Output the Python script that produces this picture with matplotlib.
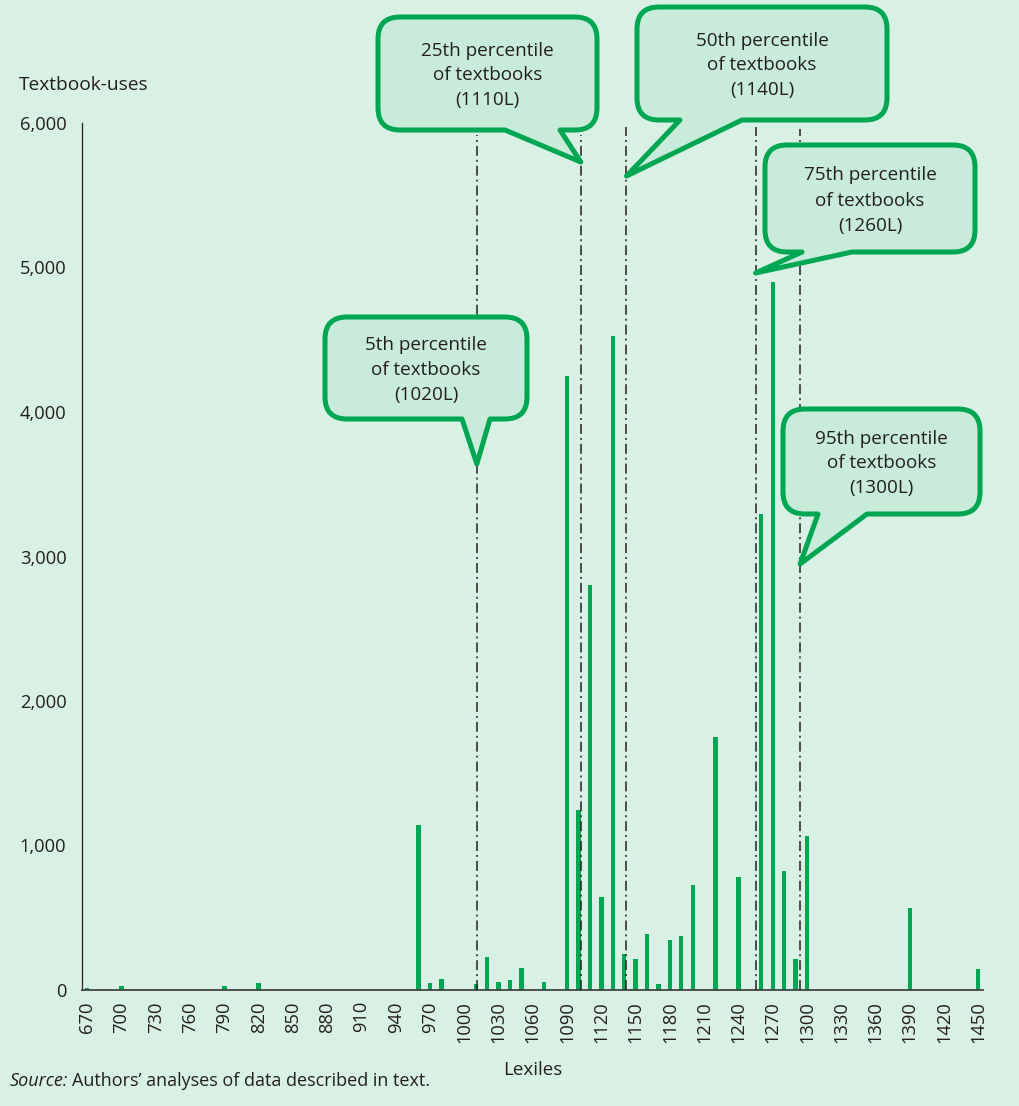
import matplotlib
matplotlib.use("Agg")
import matplotlib.pyplot as plt
from matplotlib.path import Path
from matplotlib.patches import PathPatch

# data
bar_lexiles = [670, 700, 790, 820, 960, 970, 980, 1010, 1020, 1030, 1040, 1050, 1070,
               1090, 1100, 1110, 1120, 1130, 1140, 1150, 1160, 1170, 1180, 1190, 1200,
               1220, 1240, 1260, 1270, 1280, 1290, 1300, 1390, 1450]
bar_uses = [14, 28, 28, 46, 1143, 46, 76, 39, 231, 53, 69, 155, 55,
            4246, 1247, 2802, 642, 4527, 247, 217, 386, 39, 346, 376, 730,
            1749, 781, 3291, 4902, 825, 217, 1067, 566, 145]

tick_lexiles = list(range(670, 1451, 30))
y_ticks = [0, 1000, 2000, 3000, 4000, 5000, 6000]

pct_names = ["5th", "25th", "50th", "75th", "95th"]
pct_lexiles = [1020, 1110, 1140, 1260, 1300]
pct_line_x = [1011, 1102, 1142, 1255, 1294]
pct_line_top = [5920, 5920, 5975, 5975, 5960]

# callout boxes in pixels: x0, y0, x1, y1, tail left, tail right, tip y
callout_boxes = [
    (325, 317, 527, 419, 462, 490, 464),
    (378, 17, 597, 130, 505, 560, 162),
    (637, 7, 887, 120, 680, 742, 176),
    (765, 145, 975, 252, 802, 852, 273),
    (783, 409, 980, 514, 818, 867, 564),
]

BG = "#d9f1e4"
GREEN = "#00a651"
FILL = "#c9ecda"
INK = "#231f20"

plt.rcParams["font.family"] = ["Open Sans", "DejaVu Sans"]

W, H = 1019, 1106
fig = plt.figure(figsize=(W / 100, H / 100), dpi=100, facecolor=BG)
ax = fig.add_axes([81.7 / W, 1 - 990 / H, (983 - 81.7) / W, (990 - 123) / H])
ax.set_facecolor(BG)

ax.bar(bar_lexiles, bar_uses, width=3.8, color=GREEN, zorder=2)

for x, top in zip(pct_line_x, pct_line_top):
    ax.plot([x, x], [0, top], color=INK, lw=1.1, dashes=(6.5, 2.6, 1.3, 2.6), zorder=3)

ax.set_xlim(665.1, 1454.1)
ax.set_ylim(0, 6000)
ax.set_xticks(tick_lexiles)
ax.set_xticklabels([str(v) for v in tick_lexiles], rotation=90, fontsize=13.2, color=INK)
ax.set_yticks(y_ticks)
ax.set_yticklabels([f"{v:,}" for v in y_ticks], fontsize=13.2, color=INK)
ax.tick_params(axis="y", length=0, pad=11)
ax.tick_params(axis="x", length=0, pad=8)
for s in ["top", "right"]:
    ax.spines[s].set_visible(False)
ax.spines["left"].set_color(INK)
ax.spines["left"].set_linewidth(0.9)
ax.spines["bottom"].set_color("#444444")
ax.spines["bottom"].set_linewidth(1.3)
ax.set_xlabel("Lexiles", fontsize=13.5, color=INK, labelpad=13)

fig.text(19 / W, 1 - 85 / H, "Textbook-uses", fontsize=13.8, color=INK, va="center")

# source line, italic part first
src = fig.text(10 / W, 1 - 1081 / H, "Source:", fontsize=13, style="italic", color=INK, va="center")
r = fig.canvas.get_renderer()
bb = src.get_window_extent(r)
fig.text((bb.x1 + 4) / W, 1 - 1081 / H, "Authors\u2019 analyses of data described in text.",
         fontsize=13, color=INK, va="center")

# overlay in pixel coords for callouts
ov = fig.add_axes([0, 0, 1, 1], zorder=5)
ov.set_xlim(0, W)
ov.set_ylim(H, 0)
ov.axis("off")
ov.patch.set_alpha(0)


def callout(x0, y0, x1, y1, ta, tb, tip, r=22):
    verts = [(x0 + r, y0), (x1 - r, y0), (x1, y0), (x1, y0 + r), (x1, y1 - r),
             (x1, y1), (x1 - r, y1), (tb, y1), tip, (ta, y1), (x0 + r, y1),
             (x0, y1), (x0, y1 - r), (x0, y0 + r), (x0, y0), (x0 + r, y0), (x0 + r, y0)]
    codes = [Path.MOVETO, Path.LINETO, Path.CURVE3, Path.CURVE3, Path.LINETO,
             Path.CURVE3, Path.CURVE3, Path.LINETO, Path.LINETO, Path.LINETO, Path.LINETO,
             Path.CURVE3, Path.CURVE3, Path.LINETO, Path.CURVE3, Path.CURVE3, Path.CLOSEPOLY]
    return PathPatch(Path(verts, codes), facecolor=FILL, edgecolor=GREEN, lw=3.6,
                     joinstyle="round")


for name, lex, lx, box in zip(pct_names, pct_lexiles, pct_line_x, callout_boxes):
    x0, y0, x1, y1, ta, tb, tipy = box
    tipx = ax.transData.transform((lx, 0))[0]
    ov.add_patch(callout(x0, y0, x1, y1, ta, tb, (tipx, tipy)))
    ov.text((x0 + x1) / 2, (y0 + y1) / 2 + 2,
            f"{name} percentile\nof textbooks\n({lex}L)",
            ha="center", va="center", fontsize=13.6, color=INK, linespacing=1.5)

fig.savefig("out.png", dpi=100, facecolor=BG)
